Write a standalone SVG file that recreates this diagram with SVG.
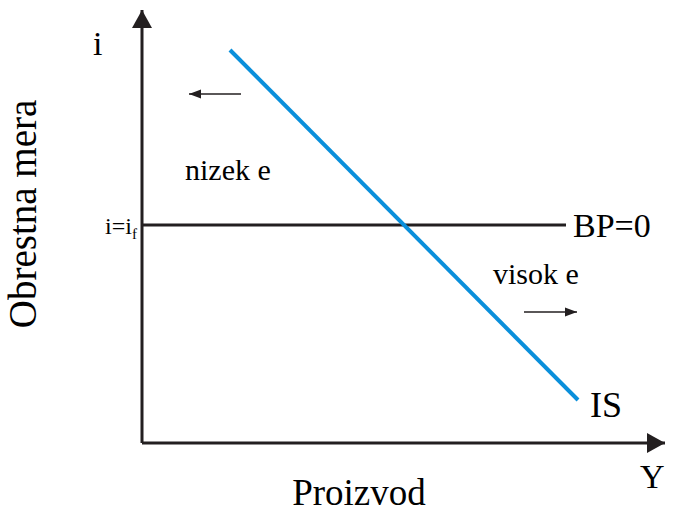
<svg xmlns="http://www.w3.org/2000/svg" width="681" height="515" viewBox="0 0 681 515">
<style>
.ax{stroke:#231f20;stroke-width:3;fill:none}
.thin{stroke:#231f20;stroke-width:1.6;fill:none}
</style>
<defs>
<marker id="big" markerWidth="20" markerHeight="20" refX="0" refY="0" viewBox="-18 -10 20 20" markerUnits="userSpaceOnUse" orient="auto"><path d="M0,0 L-18,-10 L-18,10 Z" fill="#231f20"/></marker>
<marker id="small" viewBox="-12 -5 13 10" refX="0" refY="0" markerWidth="13" markerHeight="10" markerUnits="userSpaceOnUse" orient="auto"><path d="M0,0 L-12,-4.5 L-12,4.5 Z" fill="#231f20"/></marker>
</defs>
<rect width="681" height="515" fill="#fff"/>
<g id="connectors">
<path class="ax" d="M142,443 V10" marker-end="url(#big)"/>
<path class="ax" d="M142,443 H665" marker-end="url(#big)"/>
<path id="bp" class="ax" d="M142,225 H566"/>
<path id="is" d="M230,50 L578,400" stroke="#0a8fdb" stroke-width="4" fill="none"/>
<path class="thin" d="M241,94 H189" marker-end="url(#small)"/>
<path class="thin" d="M524,312 H577" marker-end="url(#small)"/>
</g>
<g id="labels" font-family="'Liberation Serif', 'DejaVu Serif', serif" fill="#000">
<text x="93" y="55" font-size="34">i</text>
<text x="105" y="234" font-size="24">i=i<tspan font-size="15" dy="5">f</tspan></text>
<text x="573" y="237" font-size="34">BP=0</text>
<text x="185" y="180" font-size="30">nizek e</text>
<text x="493" y="284" font-size="30">visok e</text>
<text x="590" y="417" font-size="36">IS</text>
<text x="640" y="488" font-size="34">Y</text>
<text x="359" y="505" font-size="37" text-anchor="middle">Proizvod</text>
<text transform="translate(36,214) rotate(-90)" font-size="39" text-anchor="middle">Obrestna mera</text>
</g>
</svg>
